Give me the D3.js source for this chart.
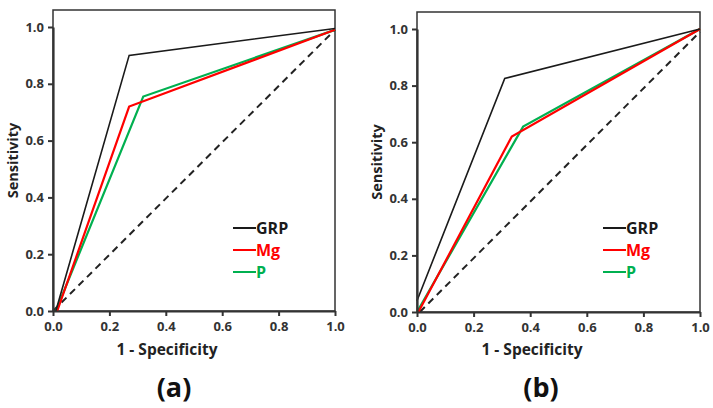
<!DOCTYPE html>
<html><head><meta charset="utf-8">
<script src="https://cdn.jsdelivr.net/npm/d3@7"></script>
<style>body{margin:0;background:#fff}svg{display:block}</style>
</head><body>
<svg id="c" width="713" height="408"></svg>
<script>
const ticks = [0, 0.2, 0.4, 0.6, 0.8, 1.0];
const seriesNames = ["GRP", "Mg", "P"];
const seriesColors = ["#1a1a1a", "#ff0000", "#00b050"];
// panel (a)
const aGRP = [[0.01, 0], [0.27, 0.90], [1, 0.995]];
const aMg  = [[0.015, 0], [0.27, 0.72], [1, 0.99]];
const aP   = [[0.01, 0], [0.32, 0.755], [1, 0.99]];
const aRef = [[0, 0], [1, 0.99]];
// panel (b)
const bGRP = [[0, 0.04], [0.31, 0.825], [1, 1.0]];
const bMg  = [[0.005, 0], [0.335, 0.62], [1, 1.0]];
const bP   = [[0, 0], [0.375, 0.655], [1, 1.0]];
const bRef = [[0.01, 0], [1, 0.99]];

const svg = d3.select("#c");
const font = "'Open Sans', 'DejaVu Sans', sans-serif";

function panel(cfg) {
  const {x0, x1, yTop, y0, y1, series, ref, label, legX, titleX, labelX} = cfg;
  const x = d3.scaleLinear().domain([0, 1]).range([x0, x1]);
  const y = d3.scaleLinear().domain([0, 1]).range([y0, y1]);
  const g = svg.append("g");
  g.append("rect").attr("x", x0).attr("y", yTop).attr("width", x1 - x0).attr("height", y0 - yTop)
    .attr("fill", "none").attr("stroke", "#333").attr("stroke-width", 1.5);
  const line = d3.line().x(d => x(d[0])).y(d => y(d[1]));
  g.append("path").datum(ref).attr("d", line).attr("fill", "none").attr("stroke", "#222")
    .attr("stroke-width", 2).attr("stroke-dasharray", "7,5");
  [2, 1, 0].forEach(i => {
    g.append("path").datum(series[i]).attr("d", line).attr("fill", "none")
      .attr("stroke", seriesColors[i]).attr("stroke-width", i === 0 ? 1.6 : 2.2);
  });
  const xa = g.append("g").attr("transform", `translate(0,${y0})`)
    .call(d3.axisBottom(x).tickValues(ticks).tickFormat(d3.format(".1f")).tickSize(5).tickSizeOuter(0));
  const ya = g.append("g").attr("transform", `translate(${x0},0)`)
    .call(d3.axisLeft(y).tickValues(ticks).tickFormat(d3.format(".1f")).tickSize(5).tickSizeOuter(0));
  [xa, ya].forEach(a => {
    a.select(".domain").attr("stroke", "#333").attr("stroke-width", 2.2);
    a.selectAll(".tick line").attr("stroke", "#333").attr("stroke-width", 2);
    a.selectAll("text").attr("font-family", font).attr("font-weight", "bold")
      .attr("font-size", 13).attr("fill", "#333");
  });
  xa.selectAll("text").attr("dy", "0.95em");
  ya.selectAll("text").attr("dx", "-1px");
  g.append("text").attr("x", titleX).attr("y", 355).attr("text-anchor", "middle")
    .attr("font-family", font).attr("font-weight", "bold").attr("font-size", 15.5).attr("fill", "#222")
    .text("1 - Specificity");
  g.append("text").attr("transform", `translate(${x0 - 35},${(y0 + yTop) / 2}) rotate(-90)`)
    .attr("text-anchor", "middle").attr("font-family", font).attr("font-weight", "bold")
    .attr("font-size", 14.5).attr("fill", "#222").text("Sensitivity");
  g.append("text").attr("x", labelX).attr("y", 397).attr("text-anchor", "middle")
    .attr("font-family", font).attr("font-weight", "bold").attr("font-size", 27).attr("fill", "#111")
    .text(label);
  seriesNames.forEach((n, i) => {
    const ly = 228 + i * 22;
    g.append("line").attr("x1", legX).attr("x2", legX + 23).attr("y1", ly).attr("y2", ly)
      .attr("stroke", seriesColors[i]).attr("stroke-width", 2);
    g.append("text").attr("x", legX + 23).attr("y", ly).attr("dy", "0.36em")
      .attr("font-family", font).attr("font-weight", "bold").attr("font-size", 16)
      .attr("fill", seriesColors[i]).text(n);
  });
}

panel({x0: 53, x1: 335, yTop: 10, y0: 311, y1: 27,
  series: [aGRP, aMg, aP], ref: aRef, label: "(a)", legX: 233, titleX: 167, labelX: 174});
panel({x0: 417, x1: 700, yTop: 12, y0: 312, y1: 29,
  series: [bGRP, bMg, bP], ref: bRef, label: "(b)", legX: 603, titleX: 532, labelX: 541});
</script>
</body></html>
